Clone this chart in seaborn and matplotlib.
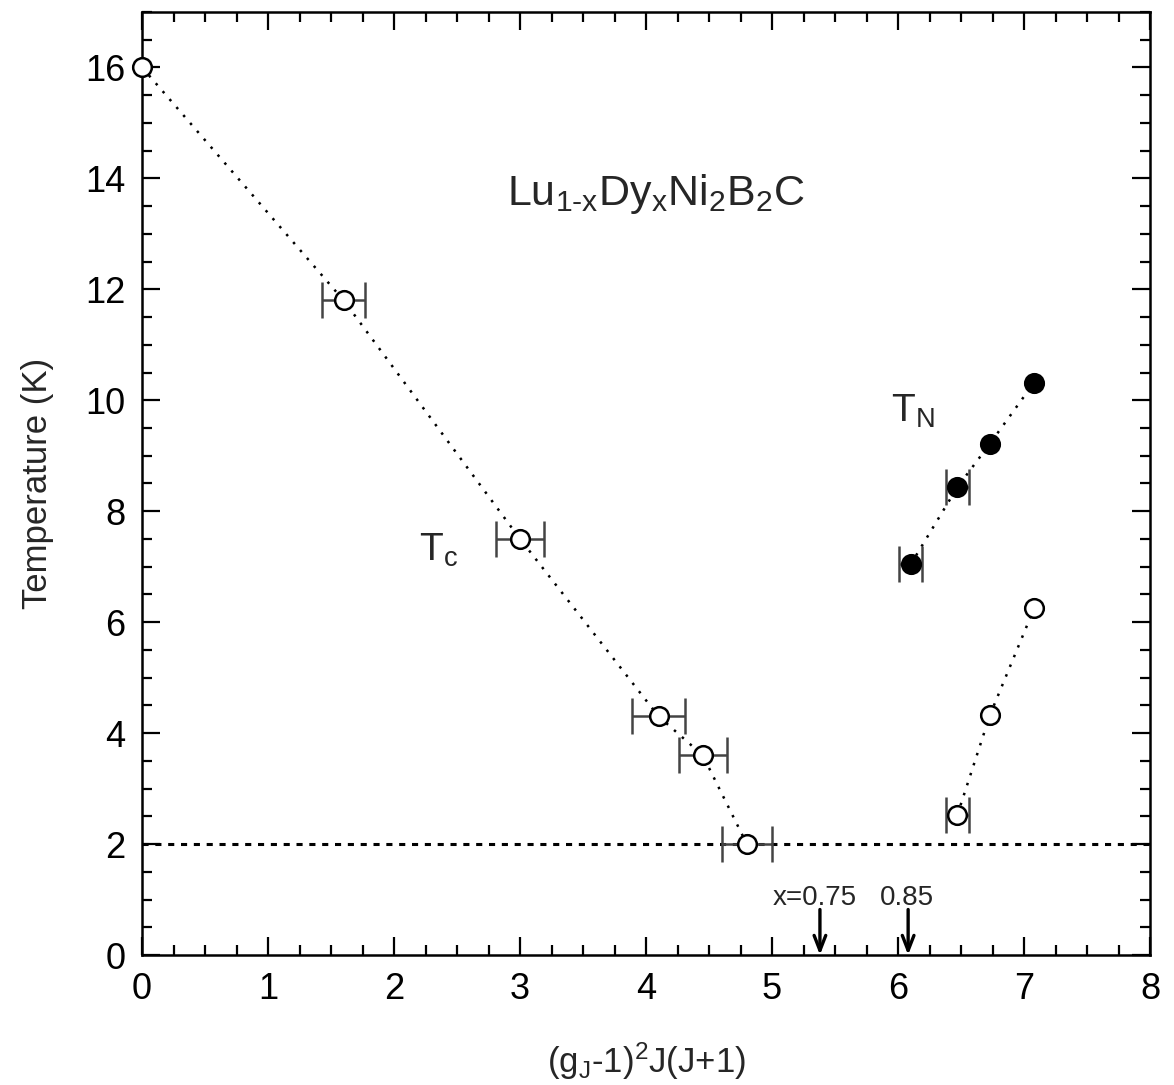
import matplotlib
matplotlib.use("Agg")
import matplotlib.pyplot as plt
import seaborn as sns
import pandas as pd
from matplotlib.ticker import MultipleLocator

sns.set_theme(style="ticks")
plt.rcParams['font.family'] = ['Liberation Sans', 'DejaVu Sans']
plt.rcParams['mathtext.fontset'] = 'custom'
plt.rcParams['mathtext.rm'] = 'Liberation Sans'
plt.rcParams['mathtext.it'] = 'Liberation Sans'

# Tc (open circles)
tc_x = [0.0, 1.60, 3.00, 4.10, 4.45, 4.80]
tc_y = [16.0, 11.8, 7.5, 4.3, 3.6, 2.0]
tc_xerr = [0.0, 0.17, 0.19, 0.21, 0.19, 0.2]

# TN (filled circles)
tn_x = [6.10, 6.47, 6.73, 7.08]
tn_y = [7.04, 8.43, 9.22, 10.32]
tn_xerr = [0.09, 0.09, 0.0, 0.0]

# lower branch (open circles)
lo_x = [6.47, 6.73, 7.08]
lo_y = [2.52, 4.33, 6.25]
lo_xerr = [0.09, 0.0, 0.0]

arrow_x = [5.38, 6.08]
arrow_labels = ["x=0.75", "0.85"]

fig = plt.figure(figsize=(11.74, 10.85), dpi=100)
ax = fig.add_axes([0.121, 0.1198, 0.8586, 0.8692])

dot = (0, (1, 3.2))
df_tc = pd.DataFrame({"x": tc_x, "y": tc_y, "e": tc_xerr})
df_tn = pd.DataFrame({"x": tn_x, "y": tn_y, "e": tn_xerr})
df_lo = pd.DataFrame({"x": lo_x, "y": lo_y, "e": lo_xerr})
for d in (df_tc, df_tn, df_lo):
    sns.lineplot(data=d, x="x", y="y", ax=ax, color="black", lw=1.8,
                 linestyle=dot, sort=False, estimator=None, zorder=2)

ax.axhline(2, color="black", lw=2.2, linestyle=(0, (2, 2.2)), zorder=1)

ekw = dict(fmt="none", ecolor="#444444", elinewidth=1.8, capsize=13, capthick=1.8, zorder=3)
for d in (df_tc, df_tn, df_lo):
    sub = d[d["e"] > 0]
    ax.errorbar(sub["x"], sub["y"], xerr=sub["e"], **ekw)

sns.scatterplot(data=df_tc, x="x", y="y", ax=ax, s=180, facecolor="white",
                edgecolor="black", linewidth=1.8, zorder=4, clip_on=False)
sns.scatterplot(data=df_lo, x="x", y="y", ax=ax, s=180, facecolor="white",
                edgecolor="black", linewidth=1.8, zorder=4)
sns.scatterplot(data=df_tn, x="x", y="y", ax=ax, s=180, color="black",
                edgecolor="black", linewidth=1.8, zorder=4)

for xa in arrow_x:
    ax.annotate("", xy=(xa, 0.0), xytext=(xa, 0.82),
                arrowprops=dict(arrowstyle="->,head_length=0.9,head_width=0.35",
                                color="black", lw=2.4, shrinkA=0, shrinkB=0))
ax.text(5.34, 1.03, arrow_labels[0], fontsize=20, ha="center", va="center")
ax.text(6.07, 1.03, arrow_labels[1], fontsize=20, ha="center", va="center")

ax.text(4.08, 13.72, r"$\mathregular{Lu_{1\text{-}x}Dy_xNi_2B_2C}$", fontsize=31,
        ha="center", va="center")
ax.text(2.35, 7.3, r"$\mathregular{T_c}$", fontsize=28, ha="center", va="center")
ax.text(6.12, 9.8, r"$\mathregular{T_N}$", fontsize=28, ha="center", va="center")

ax.set_xlim(0, 8)
ax.set_ylim(0, 17)
ax.xaxis.set_major_locator(MultipleLocator(1))
ax.xaxis.set_minor_locator(MultipleLocator(0.25))
ax.yaxis.set_major_locator(MultipleLocator(2))
ax.yaxis.set_minor_locator(MultipleLocator(0.5))
ax.tick_params(which="both", direction="in", top=True, right=True, width=1.6,
               colors="black", labelsize=26)
ax.tick_params(which="major", length=13, pad=12)
ax.tick_params(which="minor", length=7)
for s in ax.spines.values():
    s.set_linewidth(1.8)
    s.set_color("black")

ax.set_xlabel(r"$\mathregular{(g_J\text{-}1)^2J(J{+}1)}$", fontsize=25, labelpad=24)
ax.set_ylabel("Temperature (K)", fontsize=25, labelpad=22)

fig.savefig("out.png", dpi=100, facecolor="white")
